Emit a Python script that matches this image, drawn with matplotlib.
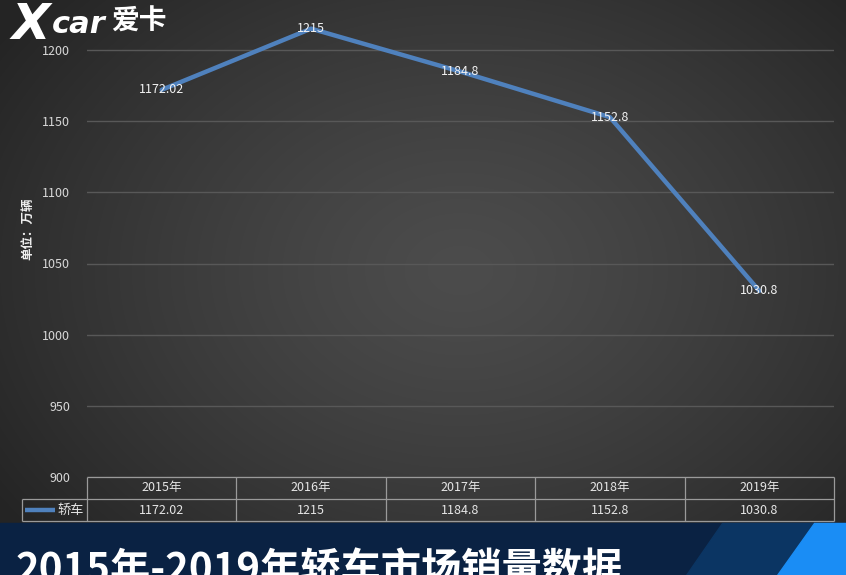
import numpy as np
import matplotlib
matplotlib.use("Agg")
import matplotlib.pyplot as plt
from matplotlib.patches import Polygon, Rectangle

plt.rcParams['font.family'] = ['Noto Sans CJK SC', 'DejaVu Sans']

years = ["2015年", "2016年", "2017年", "2018年", "2019年"]
series_name = "轿车"
values = [1172.02, 1215, 1184.8, 1152.8, 1030.8]
value_labels = ["1172.02", "1215", "1184.8", "1152.8", "1030.8"]
yticks = [900, 950, 1000, 1050, 1100, 1150, 1200]
title = "2015年-2019年轿车市场销量数据"
ylabel = "单位：万辆"

W, H = 846, 575
fig = plt.figure(figsize=(W / 100, H / 100), dpi=100)

# background radial gradient
bg = fig.add_axes([0, 0, 1, 1], zorder=-10)
yy, xx = np.mgrid[0:H, 0:W]
r = np.sqrt(((xx - 460) / 560.0) ** 2 + ((yy - 270) / 420.0) ** 2)
r = np.clip(r, 0, 1)
v = (76 - (76 - 36) * r ** 1.3) / 255.0
img = np.dstack([v, v, v])
bg.imshow(img, extent=[0, W, H, 0], aspect='auto')
bg.set_xlim(0, W)
bg.set_ylim(H, 0)
bg.axis('off')

# banner
bg.add_patch(Rectangle((0, 523), W, H - 523, color='#0a2243', zorder=2))
bg.add_patch(Polygon([(722, 523), (W, 523), (W, H), (686, H)], closed=True,
                     color='#0b3563', zorder=3))
bg.add_patch(Polygon([(814, 523), (W, 523), (W, H), (777, H)], closed=True,
                     color='#1a8df5', zorder=4))

# main plot axes
ax = fig.add_axes([87 / W, 1 - 477 / H, 747 / W, 477 / H])
ax.set_facecolor('none')
ymax = 900 + 477 / (427 / 300.0)
ax.set_ylim(900, ymax)
ax.set_xlim(-0.5, 4.5)
ax.set_yticks(yticks)
ax.set_yticklabels([str(t) for t in yticks], color='#d8d8d8', fontsize=9)
ax.tick_params(axis='y', length=0, pad=12)
ax.set_xticks([])
for s in ax.spines.values():
    s.set_visible(False)
ax.grid(axis='y', color='#585858', linewidth=1.0)
ax.set_axisbelow(True)

x = np.arange(len(values))
ax.plot(x, values, color='#4f81bd', linewidth=3.2, solid_capstyle='round', zorder=3)
for xi, yi, lab in zip(x, values, value_labels):
    ax.text(xi, yi, lab, ha='center', va='center', color='#f2f2f2', fontsize=9, zorder=4)

fig.text(28 / W, 1 - 229 / H, ylabel, rotation=90, ha='center', va='center',
         color='#f0f0f0', fontsize=9, fontweight='bold')

# data table
tab = fig.add_axes([22 / W, 1 - 521 / H, 812 / W, 44 / H])
tab.set_facecolor('none')
left = -0.5 - 65 / 149.4
tab.set_xlim(left, 4.5)
tab.set_ylim(0, 2)
tab.axis('off')
lc = '#9a9a9a'
tab.hlines(2, -0.5, 4.5, color=lc, lw=0.9, clip_on=False)
tab.hlines([0, 1], left, 4.5, color=lc, lw=0.9, clip_on=False)
tab.vlines(left, 0, 1, color=lc, lw=0.9, clip_on=False)
tab.vlines(np.arange(-0.5, 5, 1), 0, 2, color=lc, lw=0.9, clip_on=False)
for i, (yr, lab) in enumerate(zip(years, value_labels)):
    tab.text(i, 1.5, yr, ha='center', va='center', color='#e6e6e6', fontsize=9)
    tab.text(i, 0.5, lab, ha='center', va='center', color='#e6e6e6', fontsize=9)
tab.plot([left + 3 / 149.4, left + 33 / 149.4], [0.5, 0.5], color='#4f81bd', lw=3.2,
         solid_capstyle='butt')
tab.text(left + 49 / 149.4, 0.5, series_name, ha='center', va='center',
         color='#e6e6e6', fontsize=9.5)

# title (cut off at the bottom edge, as in the reference)
fig.text(16 / W, 1 - 583 / H, title, ha='left', va='baseline', color='white',
         fontsize=29, fontweight='bold')

# logo
fig.text(12 / W, 1 - 39 / H, "X", ha='left', va='baseline', color='white',
         fontsize=36, fontweight='heavy', style='italic', family=['DejaVu Sans'])
fig.text(52 / W, 1 - 33 / H, "car", ha='left', va='baseline', color='white',
         fontsize=22, fontweight='heavy', style='italic', family=['DejaVu Sans'])
fig.text(111 / W, 1 - 30 / H, "爱卡", ha='left', va='baseline', color='white',
         fontsize=20, fontweight='bold')

fig.savefig('out.png', dpi=100)
